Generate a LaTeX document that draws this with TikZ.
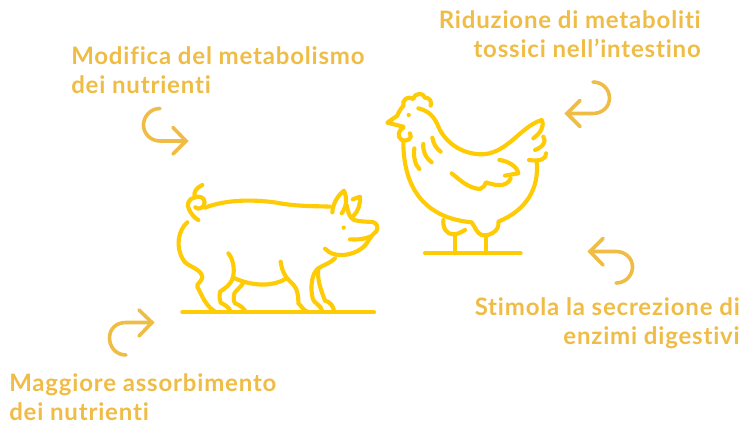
\documentclass[tikz,border=0pt]{standalone}
\usepackage{fontspec}
\setmainfont{Lato}[UprightFont=* Bold,Ligatures=NoCommon,LetterSpace=3.4]
\definecolor{animal}{HTML}{FFCB05}
\definecolor{labelc}{HTML}{EFBC45}
\tikzset{
  line/.style={draw=animal,line width=3.1pt,line cap=round,line join=round},
  arrowline/.style={draw=labelc,line width=2.7pt,line cap=round,line join=miter},
  lab/.style={text=labelc,font=\fontsize{18pt}{20pt}\selectfont,inner sep=0pt},
}
\begin{document}
\begin{tikzpicture}[x=0.75pt,y=-0.75pt]
\useasboundingbox (0,0) rectangle (743,423);
% labels
\node[lab,anchor=base west] (a1) at (71,64.5) {Modifica del metabolismo};
\node[lab,anchor=base west] (a2) at (71,94) {dei nutrienti};
\node[lab,anchor=base east] (b1) at (701,29) {Riduzione di metaboliti};
\node[lab,anchor=base east] (b2) at (701,57.5) {tossici nell’intestino};
\node[lab,anchor=base east] (c1) at (740,315.5) {Stimola la secrezione di};
\node[lab,anchor=base east] (c2) at (740,345) {enzimi digestivi};
\node[lab,anchor=base west] (d1) at (9,392) {Maggiore assorbimento};
\node[lab,anchor=base west] (d2) at (9,420.5) {dei nutrienti};
% arrows
\draw[arrowline] (160,108.5) .. controls (150,108.5) and (143.5,117) .. (143.5,125) .. controls (143.5,134) and (151,141) .. (160,141) -- (186,141);
\draw[arrowline] (173,127.5) -- (186,141) -- (173,154);
\draw[arrowline] (126,355) .. controls (116,355) and (109.5,347) .. (109.5,338) .. controls (109.5,329) and (116,322.5) .. (126,322.5) -- (152,322.5);
\draw[arrowline] (139,310) -- (152,322.5) -- (139,336);
\draw[arrowline] (593,82) .. controls (603,82) and (609.5,90) .. (609.5,98) .. controls (609.5,107) and (602,113.5) .. (593,113.5) -- (567,113.5);
\draw[arrowline] (580,100.5) -- (567,113.5) -- (580,126.5);
\draw[arrowline] (616,283) .. controls (626,283) and (632.5,275) .. (632.5,267) .. controls (632.5,258) and (625,251.5) .. (616,251.5) -- (590,251.5);
\draw[arrowline] (603,238.5) -- (590,251.5) -- (603,265);
% pig
\begin{scope}[shift={(170,170)},x=0.25pt,y=-0.25pt]
\draw[line] (97,45) .. controls (80,52) and (68,68) .. (75,82) .. controls (85,78) and (104,80) .. (104,97) .. controls (104,112) and (85,122) .. (76,112);
\draw[line] (75,82) .. controls (55,85) and (48,105) .. (58,120) .. controls (64,132) and (74,145) .. (85,150);
\draw[line] (105,113) .. controls (170,88) and (250,88) .. (320,98) .. controls (380,110) and (440,108) .. (480,110);
\draw[line] (487,127) .. controls (488,100) and (505,75) .. (522,62) .. controls (532,85) and (530,110) .. (515,130);
\draw[line] (548,88) -- (570,80) .. controls (572,100) and (565,125) .. (548,140);
\draw[line] (530,105) .. controls (535,125) and (535,140) .. (552,150) .. controls (570,155) and (590,155) .. (608,156) .. controls (622,158) and (626,175) .. (618,185) .. controls (605,195) and (600,205) .. (590,220) .. controls (565,255) and (495,270) .. (465,236);
\draw[line] (540,208) .. controls (560,210) and (585,208) .. (605,198);
\fill[animal] (521,173) circle (6.5);
\draw[line] (495,265) .. controls (480,280) and (460,285) .. (445,295) .. controls (425,310) and (420,350) .. (428,385) .. controls (430,400) and (455,405) .. (457,425);
\draw[line] (445,295) .. controls (440,330) and (455,365) .. (465,392) .. controls (480,395) and (492,410) .. (492,425);
\draw[line] (52,157) .. controls (25,180) and (15,230) .. (40,270) .. controls (50,290) and (95,295) .. (97,322) .. controls (95,335) and (80,340) .. (82,350) .. controls (95,375) and (105,405) .. (135,425);
\draw[line] (175,250) .. controls (192,270) and (195,305) .. (187,328) .. controls (180,345) and (165,355) .. (150,365) .. controls (148,380) and (148,390) .. (152,398) .. controls (165,405) and (178,412) .. (182,425);
\draw[line] (218,342) .. controls (210,352) and (200,360) .. (193,370) .. controls (190,380) and (190,392) .. (195,400) .. controls (210,405) and (222,415) .. (227,425);
\draw[line] (188,322) .. controls (235,345) and (300,355) .. (350,325);
\draw[line] (332,275) .. controls (335,300) and (345,320) .. (358,332) .. controls (385,355) and (385,375) .. (385,400) .. controls (395,408) and (398,420) .. (412,425);
\draw[line] (37,427) -- (612,427);
\end{scope}
% hen
\begin{scope}[shift={(380,85)},x=0.25pt,y=-0.25pt]
\draw[line] (70,62) .. controls (65,45) and (85,30) .. (100,42) .. controls (105,22) and (130,22) .. (135,38) .. controls (152,38) and (155,52) .. (152,62);
\draw[line] (70,62) .. controls (62,72) and (55,82) .. (52,92) -- (22,113) -- (70,125);
\draw[line] (70,128) .. controls (55,135) and (50,155) .. (65,165) .. controls (80,172) and (100,160) .. (90,145);
\fill[animal] (86,90) circle (6.5);
\draw[line] (115,70) .. controls (150,78) and (165,100) .. (175,125) .. controls (195,170) and (240,205) .. (300,208) .. controls (380,210) and (420,125) .. (485,105) .. controls (495,125) and (480,145) .. (460,160);
\draw[line] (490,155) .. controls (500,170) and (490,185) .. (465,195);
\draw[line] (498,205) .. controls (500,222) and (480,230) .. (447,225);
\draw[line] (470,228) .. controls (478,310) and (440,375) .. (355,410) .. controls (360,440) and (325,455) .. (305,450) .. controls (290,445) and (285,425) .. (275,412) .. controls (200,405) and (70,370) .. (70,170);
\draw[line] (190,405) .. controls (188,430) and (200,448) .. (220,448) .. controls (235,448) and (245,440) .. (255,435);
\draw[line] (225,450) -- (225,505);
\draw[line] (317,452) -- (317,505);
\draw[line] (135,505) -- (422,505);
\draw[line] (103,190) .. controls (100,215) and (105,240) .. (118,252);
\draw[line] (130,177) .. controls (128,200) and (138,220) .. (155,232);
\draw[line] (157,158) .. controls (160,175) and (168,190) .. (182,200);
\draw[line] (215,265) .. controls (240,285) and (265,310) .. (300,312) .. controls (310,310) and (315,300) .. (318,292) .. controls (340,300) and (380,310) .. (392,280);
\draw[line] (375,272) -- (415,265) .. controls (412,245) and (385,228) .. (358,225);
\end{scope}
\end{tikzpicture}
\end{document}
